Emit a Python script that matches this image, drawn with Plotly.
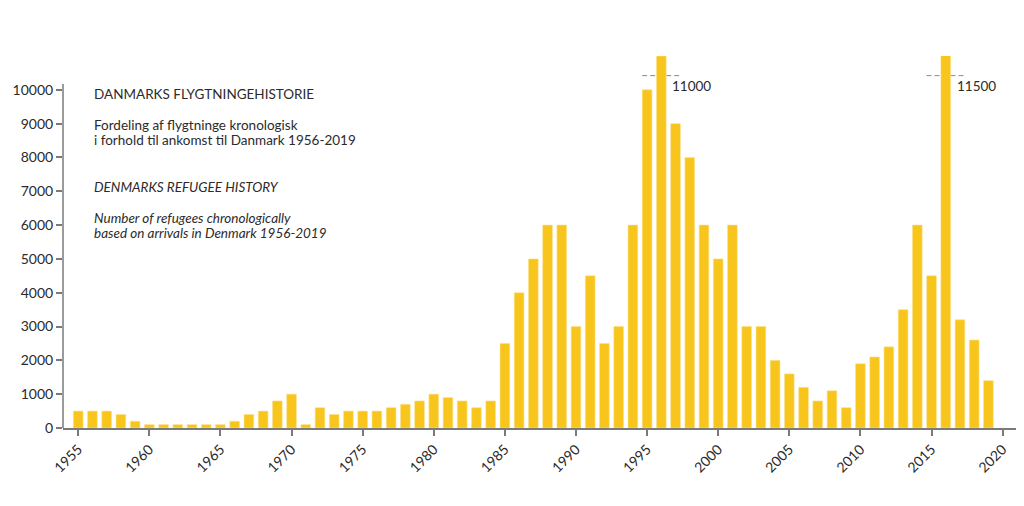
import plotly.graph_objects as go

years = list(range(1955, 2020))
refugees = [
    500, 500, 500, 400, 200, 100, 100, 100, 100, 100,   # 1955-1964
    100, 200, 400, 500, 800, 1000, 100, 600, 400, 500,  # 1965-1974
    500, 500, 600, 700, 800, 1000, 900, 800, 600, 800,  # 1975-1984
    2500, 4000, 5000, 6000, 6000, 3000, 4500, 2500, 3000, 6000,  # 1985-1994
    10000, 11000, 9000, 8000, 6000, 5000, 6000, 3000, 3000, 2000,  # 1995-2004
    1600, 1200, 800, 1100, 600, 1900, 2100, 2400, 3500, 6000,  # 2005-2014
    4500, 11500, 3200, 2600, 1400,  # 2015-2019
]
y_ticks = list(range(0, 11000, 1000))
x_ticks = list(range(1955, 2021, 5))

peak_years = [1996, 2016]
peak_labels = ["11000", "11500"]

title_da = "DANMARKS FLYGTNINGEHISTORIE"
sub_da = ["Fordeling af flygtninge kronologisk", "i forhold til ankomst til Danmark 1956-2019"]
title_en = "DENMARKS REFUGEE HISTORY"
sub_en = ["Number of refugees chronologically", "based on arrivals in Denmark 1956-2019"]

FONT = "Lato"
TXT = "#2b2b2b"
AX = "#7a7a7a"

fig = go.Figure()
fig.add_trace(go.Bar(
    x=years, y=refugees,
    marker=dict(color="#F8C51C", line=dict(color="#FBE08A", width=0.6)),
    width=0.68,
    hoverinfo="x+y",
))

# y axis line (stops just above the 10000 tick)
fig.add_shape(type="line", xref="paper", yref="y", x0=0, x1=0, y0=0, y1=10170,
              line=dict(color=AX, width=1.5))

# dashed break markers at the two peaks
for yr, lab in zip(peak_years, peak_labels):
    fig.add_shape(type="line", xref="x", yref="y", x0=yr - 1.35, x1=yr + 1.25,
                  y0=10420, y1=10420, line=dict(color="#8a8a8a", width=1, dash="5px,3px"),
                  layer="below")
    fig.add_annotation(x=yr + 0.62, y=10120, xref="x", yref="y", text=lab,
                       showarrow=False, xanchor="left", yanchor="middle",
                       font=dict(family=FONT, size=13.5, color=TXT))

def txt(y, s, italic=False):
    fig.add_annotation(x=1955.95, y=y, xref="x", yref="y",
                       text=f"<i>{s}</i>" if italic else s,
                       showarrow=False, xanchor="left", yanchor="middle",
                       font=dict(family=FONT, size=13.5, color=TXT))

txt(9890, title_da)
txt(8960, sub_da[0])
txt(8520, sub_da[1])
txt(7120, title_en, italic=True)
txt(6200, sub_en[0], italic=True)
txt(5760, sub_en[1], italic=True)

fig.update_layout(
    width=1016, height=490,
    margin=dict(l=55, r=5, t=48, b=70),
    paper_bgcolor="white", plot_bgcolor="white",
    showlegend=False,
    bargap=0.32,
    font=dict(family=FONT, size=13, color=TXT),
)
fig.update_xaxes(
    range=[1953.93, 2021.15],
    tickvals=x_ticks, ticktext=[str(v) for v in x_ticks],
    tickangle=-45, ticks="outside", ticklen=6, tickcolor=AX, tickwidth=1.5,
    showline=True, linecolor=AX, linewidth=1.5,
    showgrid=False, zeroline=False, automargin=False,
    tickfont=dict(family=FONT, size=14, color=TXT),
)
fig.update_yaxes(
    range=[0, 11000],
    tickvals=y_ticks, ticktext=[str(v) for v in y_ticks],
    ticks="outside", ticklen=6, tickcolor=AX, tickwidth=1.5,
    showline=False, showgrid=False, zeroline=False, automargin=False,
    tickfont=dict(family=FONT, size=14, color=TXT),
)

fig.write_html("out.html")
